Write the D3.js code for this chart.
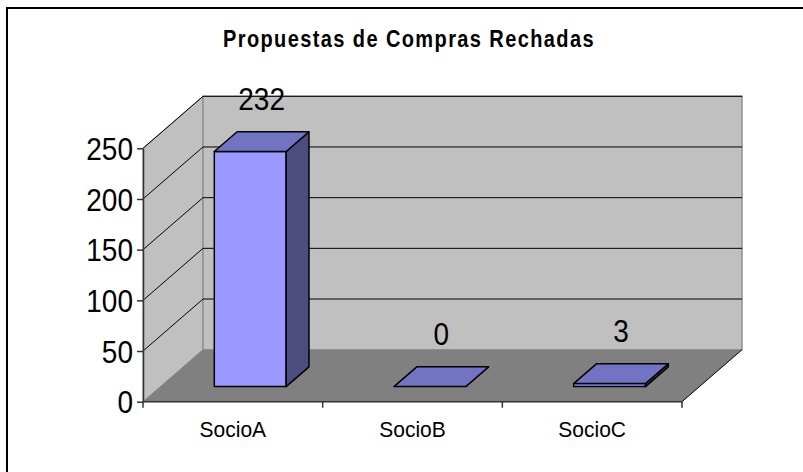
<!DOCTYPE html>
<html>
<head>
<meta charset="utf-8">
<script src="https://cdn.jsdelivr.net/npm/d3@7"></script>
<style>
  html, body { margin: 0; padding: 0; background: #ffffff; }
  svg { display: block; font-family: "Liberation Sans", Arial, sans-serif; }
</style>
</head>
<body>
<svg id="chart" width="803" height="472"></svg>
<script>
const title = "Propuestas de Compras Rechadas";
const categories = ["SocioA", "SocioB", "SocioC"];
const values = [232, 0, 3];
const yTicks = [0, 50, 100, 150, 200, 250];

const svg = d3.select("#chart");
const W = 803, H = 472;

// 3D projection parameters
const depth = { dx: 60, dy: -52 };
const barZ = [0.29, 0.67];
const proj = (x, y, z) => [x + z * depth.dx, y + z * depth.dy];

const x = d3.scaleBand().domain(categories).range([143, 682]).paddingInner(0).paddingOuter(0);
const y = d3.scaleLinear().domain([0, 250]).range([401.7, 148.3]);

// outer border
svg.append("rect")
  .attr("x", 7).attr("y", 8).attr("width", W + 20).attr("height", H + 20)
  .attr("fill", "#fff").attr("stroke", "#000").attr("stroke-width", 2);

// title
svg.append("text")
  .attr("x", 409).attr("y", 0)
  .attr("text-anchor", "middle")
  .attr("font-weight", "bold")
  .attr("font-size", 20)
  .attr("letter-spacing", 1.4)
  .attr("transform", "translate(0,46.5) scale(1,1.15)")
  .attr("fill", "#000")
  .text(title);

const x0 = x.range()[0], x1 = x.range()[1];
const y0 = y(0), yTop = y(250);
const pt = p => p.join(",");

// side wall
svg.append("polygon")
  .attr("points", [proj(x0, y0, 0), proj(x0, yTop, 0), proj(x0, yTop, 1), proj(x0, y0, 1)].map(pt).join(" "))
  .attr("fill", "#c0c0c0").attr("stroke", "#808080").attr("stroke-width", 1);

// back wall
svg.append("polygon")
  .attr("points", [proj(x0, y0, 1), proj(x0, yTop, 1), proj(x1, yTop, 1), proj(x1, y0, 1)].map(pt).join(" "))
  .attr("fill", "#c0c0c0").attr("stroke", "#909090").attr("stroke-width", 1.5);

// floor
svg.append("polygon")
  .attr("points", [proj(x0, y0, 0), proj(x0, y0, 1), proj(x1, y0, 1), proj(x1, y0, 0)].map(pt).join(" "))
  .attr("fill", "#808080").attr("stroke", "none");
svg.append("line")
  .attr("x1", proj(x1, y0, 0)[0]).attr("y1", proj(x1, y0, 0)[1])
  .attr("x2", proj(x1, y0, 1)[0]).attr("y2", proj(x1, y0, 1)[1])
  .attr("stroke", "#000").attr("stroke-width", 1);

// gridlines (side wall + back wall)
const grid = svg.append("g").attr("stroke", "#000").attr("stroke-width", 1).attr("fill", "none");
yTicks.filter(v => v > 0).forEach(v => {
  const a = proj(x0, y(v), 0), b = proj(x0, y(v), 1), c = proj(x1, y(v), 1);
  grid.append("polyline").attr("points", [a, b, c].map(pt).join(" "));
});

// bars
const barW = x.bandwidth() * 0.4;
const bars = svg.append("g");
categories.forEach((cat, i) => {
  const v = values[i];
  const bl = x(cat) + (x.bandwidth() - barW) / 2;
  const br = bl + barW;
  const yb = y(0), yt = y(v);
  const F = [proj(bl, yb, barZ[0]), proj(bl, yt, barZ[0]), proj(br, yt, barZ[0]), proj(br, yb, barZ[0])];
  const T = [proj(bl, yt, barZ[0]), proj(bl, yt, barZ[1]), proj(br, yt, barZ[1]), proj(br, yt, barZ[0])];
  const S = [proj(br, yb, barZ[0]), proj(br, yt, barZ[0]), proj(br, yt, barZ[1]), proj(br, yb, barZ[1])];
  const g = bars.append("g").attr("stroke", "#000").attr("stroke-width", 1.5).attr("stroke-linejoin", "round");
  if (v > 0) {
    g.append("polygon").attr("points", F.map(pt).join(" ")).attr("fill", "#9999ff");
    g.append("polygon").attr("points", S.map(pt).join(" ")).attr("fill", "#4d4d80");
  }
  g.append("polygon").attr("points", T.map(pt).join(" ")).attr("fill", "#7373c4");

  // value label
  const cx = (proj(bl, yt, barZ[0])[0] + proj(br, yt, barZ[1])[0]) / 2;
  const cy = (proj(bl, yt, barZ[0])[1] + proj(br, yt, barZ[1])[1]) / 2;
  svg.append("text")
    .attr("x", 0).attr("y", 0)
    .attr("transform", `translate(${cx},${cy - 32}) scale(1,1.1)`)
    .attr("text-anchor", "middle")
    .attr("font-size", 28)
    .attr("fill", "#000")
    .text(v);
});

// y axis
const yAxis = svg.append("g")
  .attr("transform", `translate(${x0},0)`)
  .call(d3.axisLeft(y).tickValues(yTicks).tickSize(6).tickPadding(4).tickSizeOuter(0));
yAxis.select(".domain").attr("stroke", "#333").attr("stroke-width", 1.5);
yAxis.selectAll(".tick line").attr("stroke", "#333").attr("stroke-width", 1.5);
yAxis.selectAll(".tick text")
  .attr("font-size", 28)
  .attr("font-family", "Liberation Sans, Arial, sans-serif")
  .attr("fill", "#000")
  .attr("dy", "0.36em")
  .attr("transform", "scale(1,1.1)");

// x axis line + ticks at band boundaries
const xAxisG = svg.append("g");
xAxisG.append("line")
  .attr("x1", x0).attr("x2", x1).attr("y1", y0).attr("y2", y0)
  .attr("stroke", "#333").attr("stroke-width", 1.5);
d3.range(categories.length + 1).forEach(i => {
  const tx = x0 + i * x.step();
  xAxisG.append("line")
    .attr("x1", tx).attr("x2", tx).attr("y1", y0).attr("y2", y0 + 6)
    .attr("stroke", "#333").attr("stroke-width", 1.5);
});
const xAxis = svg.append("g")
  .attr("transform", `translate(0,${y0})`)
  .call(d3.axisBottom(x).tickSize(0).tickPadding(0));
xAxis.select(".domain").remove();
xAxis.selectAll(".tick text")
  .attr("font-size", 21)
  .attr("font-family", "Liberation Sans, Arial, sans-serif")
  .attr("fill", "#000")
  .attr("dy", 0)
  .attr("y", 0)
  .attr("transform", "translate(0,35) scale(1,1.08)");
</script>
</body>
</html>
